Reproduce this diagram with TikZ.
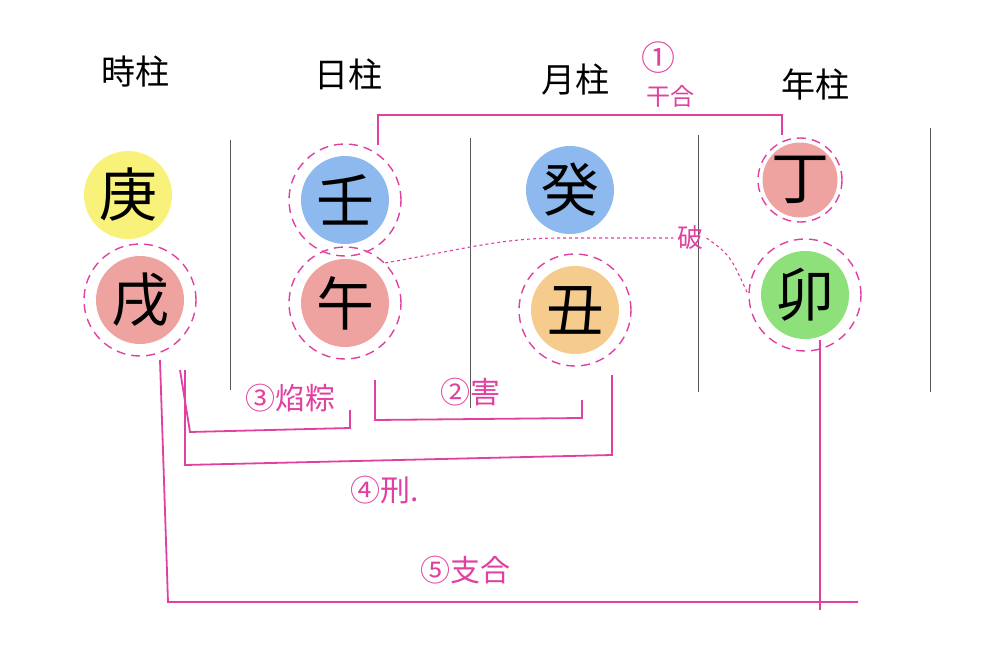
\documentclass[tikz,border=0pt]{standalone}
\usepackage{fontspec}
\setmainfont{Noto Sans CJK JP}
\usetikzlibrary{positioning}
\definecolor{pinkline}{HTML}{E0409F}
\definecolor{kyellow}{HTML}{F8F27A}
\definecolor{kblue}{HTML}{8DB9EE}
\definecolor{kred}{HTML}{EFA3A0}
\definecolor{korange}{HTML}{F5CB8E}
\definecolor{kgreen}{HTML}{8EE07A}
\tikzset{
  head/.style={font=\fontsize{34}{34}\selectfont},
  kan/.style={font=\fontsize{58}{58}\selectfont, circle, minimum size=88pt, inner sep=0pt},
  ring/.style={draw=pinkline, dash pattern=on 9pt off 6pt, line width=1.4pt, circle, minimum size=112pt},
  link/.style={draw=pinkline, line width=1.8pt},
  lbl/.style={text=pinkline, font=\fontsize{30}{30}\selectfont},
  sep/.style={draw=gray!70!black, line width=1pt}
}
\begin{document}
\begin{tikzpicture}[x=1pt,y=-1pt]
\useasboundingbox (0,0) rectangle (1007,653);
% headers
\node[head] (h1) at (135,72) {時柱};
\node[head] (h2) at (348,75) {日柱};
\node[head] (h3) at (575,80) {月柱};
\node[head] (h4) at (815,85) {年柱};
% separators
\foreach \x/\a/\b in {230/140/390, 470/138/408, 698/135/392, 930/128/392}
  \draw[sep] (\x,\a) -- (\x,\b);
% stems
\node[kan, fill=kyellow] (s1) at (128,195) {庚};
\node[kan, fill=kblue] (s2) at (345,200) {壬};
\node[kan, fill=kblue] (s3) at (570,190) {癸};
\node[kan, fill=kred, minimum size=66pt] (s4) at (800,180) {丁};
% branches
\node[kan, fill=kred] (b1) at (140,300) {戌};
\node[kan, fill=kred] (b2) at (345,303) {午};
\node[kan, fill=korange] (b3) at (575,310) {丑};
\node[kan, fill=kgreen] (b4) at (805,295) {卯};
% rings
\node[ring] (r2) at (s2) {};
\node[ring, minimum size=84pt] (r4) at (s4) {};
\node[ring] (q1) at (b1) {};
\node[ring] (q2) at (b2) {};
\node[ring] (q3) at (b3) {};
\node[ring] (q4) at (b4) {};
% 1 干合
\coordinate (c1a) at (378,145);
\coordinate (c1b) at (782,135);
\draw[link] (c1a) -- (378,115) -- (782,115) -- (c1b);
\node[lbl, font=\fontsize{34}{34}\selectfont] (l1) at (658,58) {①};
\node[lbl, font=\fontsize{24}{24}\selectfont] (l1b) at (670,96) {干合};
% 破
\node[lbl, font=\fontsize{26}{26}\selectfont] (l6) at (690,238) {破};
\draw[link, dashed, line width=1.1pt] (q2.north east) .. controls (460,250) and (500,238) .. (560,238) -- (l6.west);
\draw[link, dashed, line width=1.1pt] (l6.east) .. controls (730,255) .. (q4.west);
% 2 害
\draw[link] (375,380) -- (375,420) -- (582,418) -- (582,400);
\node[lbl] (l2) at (470,392) {②害};
% 3
\draw[link] (180,370) -- (190,432) -- (350,428) -- (350,410);
\node[lbl] (l3) at (290,398) {③焰粽};
% 4 刑
\draw[link] (185,370) -- (185,465) -- (612,455) -- (612,375);
\node[lbl] (l4) at (385,490) {④刑.};
% 5 支合
\coordinate (c5) at (858,602);
\draw[link] (160,360) -- (168,602) -- (c5);
\draw[link] (820,340) -- (820,610);
\node[lbl] (l5) at (465,570) {⑤支合};
\end{tikzpicture}
\end{document}
